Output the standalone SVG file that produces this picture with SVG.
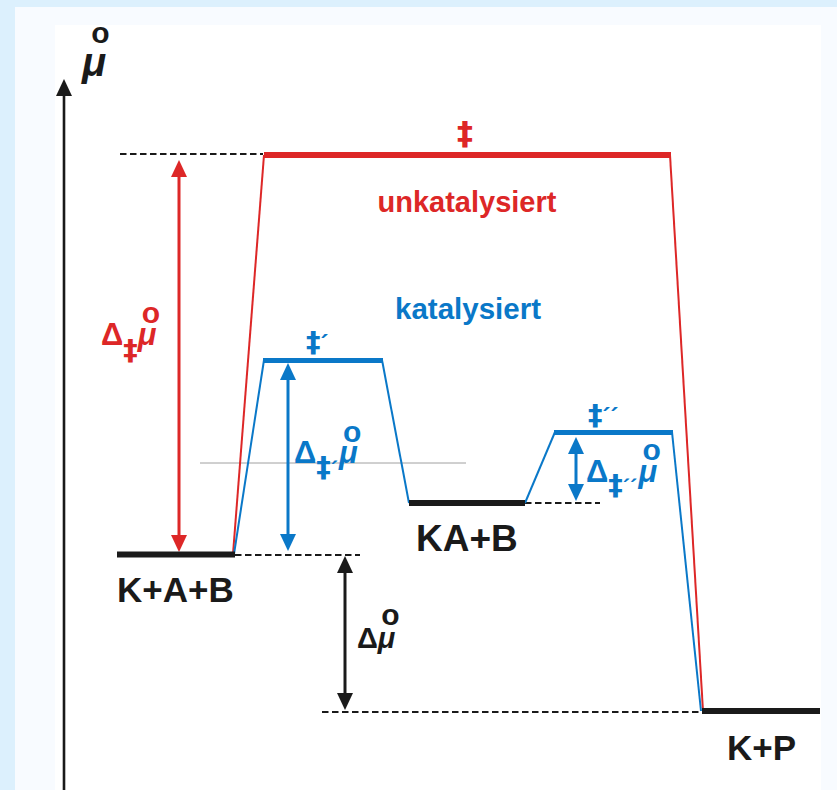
<svg xmlns="http://www.w3.org/2000/svg" width="837" height="790" viewBox="0 0 837 790">
<style>
.t{font-family:"Liberation Sans",Arial,sans-serif;font-weight:bold}
.dd{font-family:"DejaVu Sans",sans-serif;font-weight:bold}
.red{fill:#dd2727}
.blue{fill:#0a78c8}
.blk{fill:#1a1a1a}
.it{font-style:italic}
.ring{font-style:normal;font-size:30px}
.dash{stroke:#1a1a1a;stroke-width:2.2;stroke-dasharray:6.5 3.5;fill:none}
.thinR{stroke:#dd2727;stroke-width:2;fill:none}
.thinB{stroke:#0a78c8;stroke-width:2;fill:none}
</style>
<defs>
<marker id="hR" viewBox="0 0 17 16" refX="9" refY="8" markerWidth="17" markerHeight="16" markerUnits="userSpaceOnUse" orient="auto-start-reverse"><path d="M0,0 L17,8 L0,16 z" fill="#dd2727"/></marker>
<marker id="hB" viewBox="0 0 17 16" refX="9" refY="8" markerWidth="17" markerHeight="16" markerUnits="userSpaceOnUse" orient="auto-start-reverse"><path d="M0,0 L17,8 L0,16 z" fill="#0a78c8"/></marker>
<marker id="hK" viewBox="0 0 17 16" refX="9" refY="8" markerWidth="17" markerHeight="16" markerUnits="userSpaceOnUse" orient="auto-start-reverse"><path d="M0,0 L17,8 L0,16 z" fill="#1a1a1a"/></marker>
</defs>
<rect x="0" y="0" width="837" height="790" fill="#dcf0fd"/>
<rect x="15" y="7" width="822" height="783" fill="#f8fbff"/>
<rect x="55" y="25" width="766" height="765" fill="#ffffff"/>

<g id="axis">
<line x1="64" y1="790" x2="64" y2="94" stroke="#1a1a1a" stroke-width="2.6"/>
<polygon points="64,79 72,96 56,96" fill="#1a1a1a"/>
<text class="t blk it" x="82" y="76" font-size="40">μ<tspan class="ring" dx="-15" dy="-33">o</tspan></text>
</g>

<g id="connectors">
<line class="dash" x1="120" y1="154" x2="263" y2="154"/>
<line class="dash" x1="235" y1="555" x2="360" y2="555"/>
<line class="dash" x1="525" y1="503" x2="600" y2="503"/>
<line class="dash" x1="322" y1="712" x2="702" y2="712"/>
<line x1="200" y1="463" x2="466" y2="463" stroke="#a0a0a0" stroke-width="1"/>
<polyline class="thinR" points="233,554 264,155"/>
<polyline class="thinR" points="670,155 703,711"/>
<polyline class="thinB" points="234,554 264,360"/>
<polyline class="thinB" points="382,360 409,503"/>
<polyline class="thinB" points="525,503 555,432"/>
<polyline class="thinB" points="672,432 701,711"/>
<line x1="179" y1="168" x2="179" y2="544" stroke="#dd2727" stroke-width="3" marker-start="url(#hR)" marker-end="url(#hR)"/>
<line x1="288" y1="371" x2="288" y2="543" stroke="#0a78c8" stroke-width="3" marker-start="url(#hB)" marker-end="url(#hB)"/>
<line x1="576" y1="445" x2="576" y2="493" stroke="#0a78c8" stroke-width="3" marker-start="url(#hB)" marker-end="url(#hB)"/>
<line x1="345" y1="564" x2="345" y2="702" stroke="#1a1a1a" stroke-width="3" marker-start="url(#hK)" marker-end="url(#hK)"/>
</g>

<g id="ts-uncat">
<line x1="264" y1="155" x2="671" y2="155" stroke="#dd2727" stroke-width="6"/>
<text class="dd red" x="465" y="144" font-size="32" text-anchor="middle">‡</text>
<text class="t red" x="467" y="212" font-size="29" text-anchor="middle">unkatalysiert</text>
</g>

<g id="label-cat">
<text class="t blue" x="468" y="319" font-size="29.5" text-anchor="middle">katalysiert</text>
</g>

<g id="ts1">
<line x1="263" y1="360.5" x2="383" y2="360.5" stroke="#0a78c8" stroke-width="5"/>
<text class="dd blue" x="306" y="352" font-size="29">‡<tspan class="t" font-size="24">´</tspan></text>
</g>

<g id="ts2">
<line x1="554" y1="432.5" x2="673" y2="432.5" stroke="#0a78c8" stroke-width="5"/>
<text class="dd blue" x="588" y="425" font-size="29">‡<tspan class="t" font-size="24">´´</tspan></text>
</g>

<g id="KAB">
<line x1="117" y1="554.5" x2="235" y2="554.5" stroke="#1a1a1a" stroke-width="6"/>
<text class="t blk" x="117" y="602" font-size="35">K+A+B</text>
</g>

<g id="KA_B">
<line x1="409" y1="503" x2="525" y2="503" stroke="#1a1a1a" stroke-width="6"/>
<text class="t blk" x="416" y="551" font-size="37">KA+B</text>
</g>

<g id="KP">
<line x1="702" y1="711" x2="820" y2="711" stroke="#1a1a1a" stroke-width="6"/>
<text class="t blk" x="727" y="760" font-size="35">K+P</text>
</g>

<g id="dG-uncat">
<text class="t red" x="101" y="345" font-size="31">Δ<tspan class="dd" font-size="29" dx="0" dy="15">‡</tspan><tspan class="it" font-size="31" dx="0" dy="-15">μ</tspan><tspan class="ring" dx="-14.7" dy="-22">o</tspan></text>
</g>

<g id="dG-cat1">
<text class="t blue" x="294" y="463" font-size="31">Δ<tspan class="dd" font-size="29" dy="14">‡</tspan><tspan font-size="22">´</tspan><tspan class="it" font-size="31" dx="1" dy="-14">μ</tspan><tspan class="ring" dx="-14.7" dy="-21">o</tspan></text>
</g>

<g id="dG-cat2">
<text class="t blue" x="586" y="482" font-size="31">Δ<tspan class="dd" font-size="29" dy="13">‡</tspan><tspan font-size="22">´´</tspan><tspan class="it" font-size="31" dx="1" dy="-13">μ</tspan><tspan class="ring" dx="-14.7" dy="-22">o</tspan></text>
</g>

<g id="dG0">
<text class="t blk" x="357" y="648" font-size="29">Δ<tspan class="it">μ</tspan><tspan class="ring" dx="-14" dy="-23">o</tspan></text>
</g>
</svg>
